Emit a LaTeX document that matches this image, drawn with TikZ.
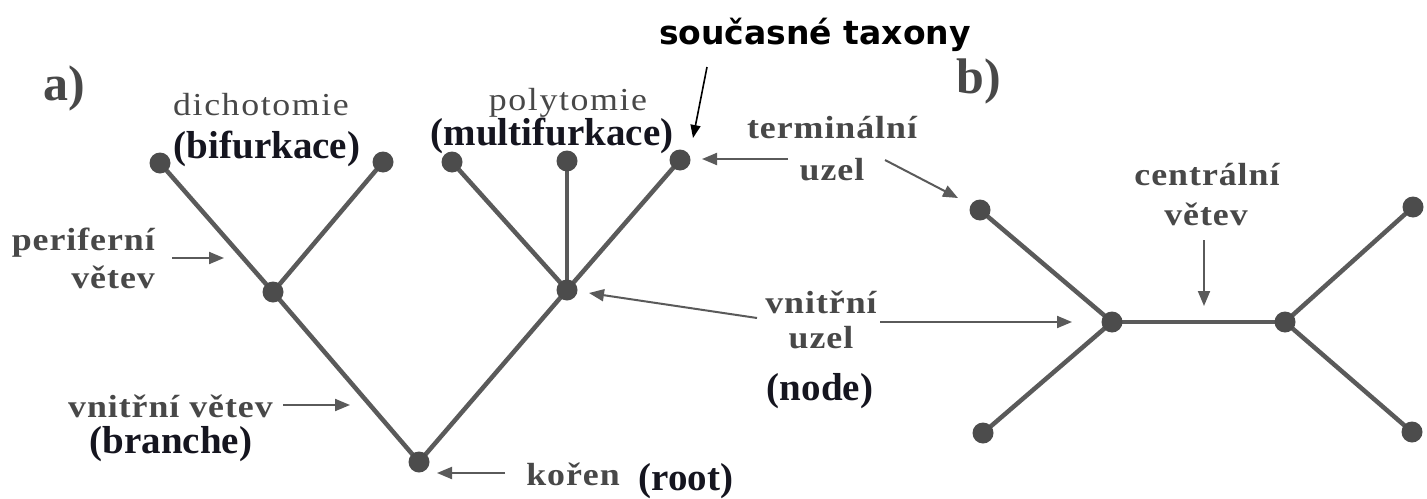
\documentclass[tikz,border=0pt]{standalone}
\usepackage{fontspec}
\setmainfont{Liberation Serif}
\newfontfamily\greyreg[FakeStretch=1.12,LetterSpace=5]{Liberation Serif}
\newfontfamily\greybf[FakeStretch=1.12,LetterSpace=3]{Liberation Serif Bold}
\newfontfamily\sansbf{DejaVu Sans Bold}
\usetikzlibrary{arrows.meta}
\definecolor{linegrey}{HTML}{5A5A5A}
\definecolor{dotgrey}{HTML}{4C4C4C}
\definecolor{txtgrey}{HTML}{484848}
\definecolor{txtdark}{HTML}{15151F}
\tikzset{
  dot/.style={circle,fill=dotgrey,inner sep=0pt,minimum size=21pt},
  branch/.style={draw=linegrey,line width=4.5pt},
  lblreg/.style={inner sep=0pt,text=txtgrey,font=\greyreg\fontsize{32}{36}\selectfont},
  lblbf/.style={inner sep=0pt,text=txtgrey,font=\greybf\fontsize{32}{36}\selectfont},
  lbldark/.style={inner sep=0pt,text=txtdark,font=\bfseries\fontsize{39}{44}\selectfont},
  lblpart/.style={inner sep=0pt,text=txtgrey,font=\bfseries\fontsize{50}{56}\selectfont},
  ptr/.style={draw=linegrey,line width=2pt,-{Triangle[length=15pt,width=12pt]}},
  ptrblack/.style={draw=black,line width=1.6pt,-{Triangle[length=13pt,width=10pt]}}
}
\begin{document}
\begin{tikzpicture}[x=1pt,y=-1pt]
\useasboundingbox[fill=white] (0,0) rectangle (1427,498);
% ---- tree a) bifurcation
\coordinate (L1) at (160,163);
\coordinate (L2) at (383,162);
\coordinate (I1) at (273,292);
\coordinate (R)  at (419,462);
% ---- polytomy
\coordinate (P1) at (452,162);
\coordinate (P2) at (567,161);
\coordinate (P3) at (680,160);
\coordinate (I2) at (567,290);
% ---- tree b)
\coordinate (B1) at (980,210);
\coordinate (B2) at (983,433);
\coordinate (BI1) at (1112,322);
\coordinate (BI2) at (1285,322);
\coordinate (B3) at (1413,207);
\coordinate (B4) at (1412,432);
\draw[branch] (L1) -- (I1);
\draw[branch] (L2) -- (I1);
\draw[branch] (I1) -- (R);
\draw[branch] (R) -- (I2);
\draw[branch] (P1) -- (I2);
\draw[branch] (P2) -- (I2);
\draw[branch] (P3) -- (I2);
\draw[branch] (B1) -- (BI1);
\draw[branch] (B2) -- (BI1);
\draw[branch] (BI1) -- (BI2);
\draw[branch] (BI2) -- (B3);
\draw[branch] (BI2) -- (B4);
\foreach \n in {L1,L2,I1,R,P1,P2,P3,I2,B1,B2,BI1,BI2,B3,B4}
  \node[dot] (d\n) at (\n) {};
% ---- labels
\node[lblpart,anchor=base] (ta) at (64,100) {a)};
\node[lblpart,anchor=base] (tb) at (979,93) {b)};
\node[lblreg,anchor=base] (tdich) at (261,115) {dichotomie};
\node[lbldark,anchor=base] (tbif) at (267,158) {(bifurkace)};
\node[lblbf,anchor=base east] (tper) at (155,250) {periferní};
\node[lblbf,anchor=base east] (tvet1) at (155,288) {větev};
\node[lblbf,anchor=base east] (tvv) at (273,417) {vnitřní větev};
\node[lbldark,anchor=base] (tbr) at (171,453) {(branche)};
\node[lblreg,anchor=base] (tpoly) at (568,110) {polytomie};
\node[lbldark,anchor=base] (tmul) at (552,145) {(multifurkace)};
\node[inner sep=0pt,anchor=base,font=\sansbf\fontsize{33}{38}\selectfont] (tsou) at (815,44) {současné taxony};
\node[lblbf,anchor=base] (tterm) at (832,138) {terminální};
\node[lblbf,anchor=base] (tuz1) at (832,180) {uzel};
\node[lblbf,anchor=base] (tvn) at (821,313) {vnitřní};
\node[lblbf,anchor=base] (tuz2) at (821,348) {uzel};
\node[lbldark,anchor=base] (tnode) at (820,400) {(node)};
\node[lblbf,anchor=base] (tkor) at (573,485) {kořen};
\node[lbldark,anchor=base] (troot) at (686,490) {(root)};
\node[lblbf,anchor=base] (tcen) at (1207,185) {centrální};
\node[lblbf,anchor=base] (tvet2) at (1206,225) {větev};
% ---- arrow end points
\coordinate (aPerS) at (172,258); \coordinate (aPerE) at (224,258);
\coordinate (aVvS) at (283,405);  \coordinate (aVvE) at (350,405);
\coordinate (aKorS) at (505,473); \coordinate (aKorE) at (437,473);
\coordinate (aVnS) at (757,318);  \coordinate (aVnE) at (589,293);
\coordinate (aVn2S) at (880,322); \coordinate (aVn2E) at (1072,322);
\coordinate (aTeS) at (788,159);  \coordinate (aTeE) at (702,159);
\coordinate (aUzS) at (885,160);  \coordinate (aUzE) at (958,198);
\coordinate (aSoS) at (707,67);   \coordinate (aSoE) at (693,138);
\coordinate (aCeS) at (1204,240); \coordinate (aCeE) at (1204,306);
\draw[ptr] (aPerS) -- (aPerE);
\draw[ptr] (aVvS) -- (aVvE);
\draw[ptr] (aKorS) -- (aKorE);
\draw[ptr] (aVnS) -- (aVnE);
\draw[ptr] (aVn2S) -- (aVn2E);
\draw[ptr] (aTeS) -- (aTeE);
\draw[ptr] (aUzS) -- (aUzE);
\draw[ptrblack] (aSoS) -- (aSoE);
\draw[ptr] (aCeS) -- (aCeE);
\end{tikzpicture}
\end{document}
